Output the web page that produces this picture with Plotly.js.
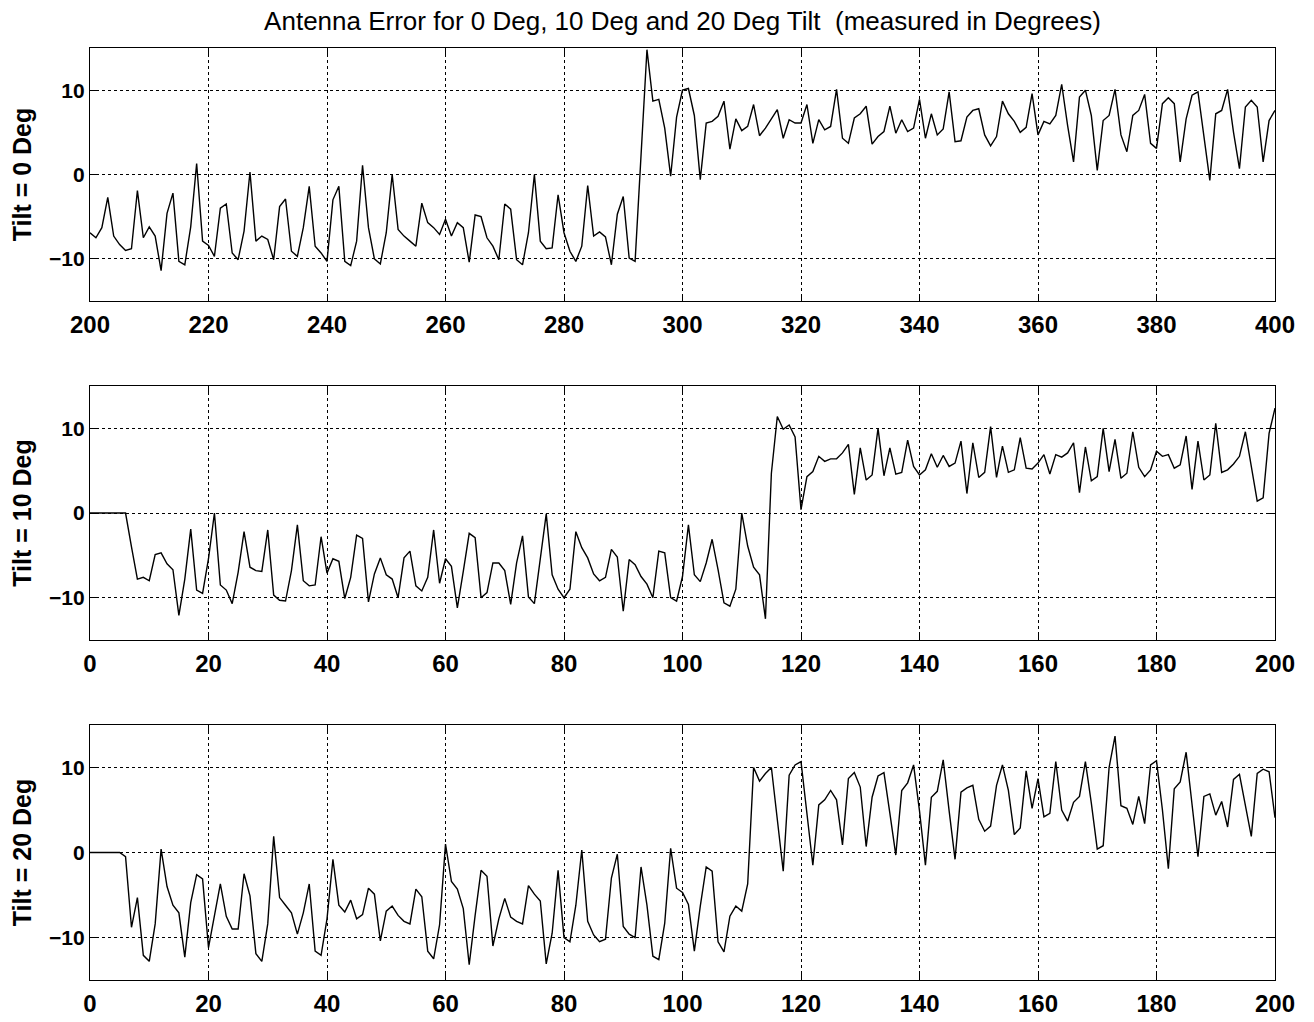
<!DOCTYPE html>
<html>
<head>
<meta charset="utf-8">
<script src="https://cdn.plot.ly/plotly-3.0.1.min.js"></script>
<style>
html,body{margin:0;padding:0;background:#fff;}
#chart{width:1314px;height:1022px;}
</style>
</head>
<body>
<div id="chart"></div>
<script>
// Sample indices: first sample of each record
const start0 = 200;   // Tilt = 0 Deg record starts at sample 200
const start10 = 0;    // Tilt = 10 Deg
const start20 = 0;    // Tilt = 20 Deg

// Antenna error (degrees), Tilt = 0 Deg, samples 200..400
const err0 = [
 -6.9,-7.5,-6.3,-2.7,-7.3,-8.3,-9.0,-8.8,-1.9,-7.5,
 -6.2,-7.3,-11.4,-4.6,-2.2,-10.3,-10.7,-6.2,1.3,-7.9,
 -8.4,-9.7,-4.0,-3.5,-9.3,-10.1,-6.7,0.3,-7.9,-7.3,
 -7.7,-10.1,-3.8,-2.9,-9.1,-9.7,-6.3,-1.4,-8.5,-9.3,
 -10.3,-3.0,-1.4,-10.3,-10.8,-7.9,1.1,-6.3,-10.0,-10.6,
 -6.9,0.0,-6.5,-7.3,-7.9,-8.5,-3.4,-5.7,-6.3,-7.1,
 -5.3,-7.3,-5.7,-6.3,-10.4,-4.8,-5.0,-7.5,-8.5,-10.1,
 -3.5,-4.1,-10.1,-10.7,-6.9,0.0,-7.9,-8.8,-8.7,-2.4,
 -6.9,-9.1,-10.3,-8.5,-1.3,-7.3,-6.8,-7.4,-10.7,-4.7,
 -2.6,-9.9,-10.3,2.4,14.8,8.7,8.9,5.5,-0.2,6.8,
 10.0,10.2,7.0,-0.6,6.1,6.3,6.9,8.7,3.0,6.6,
 5.2,5.7,8.3,4.6,5.5,6.6,7.7,4.3,6.5,6.1,
 6.1,8.3,3.7,6.5,5.3,5.7,10.1,4.3,3.7,6.7,
 7.2,8.1,3.6,4.5,5.1,8.1,4.9,6.5,5.1,5.5,
 8.9,4.3,7.2,4.7,5.4,9.8,3.9,4.0,6.8,7.6,
 7.8,4.7,3.4,4.5,8.7,7.2,6.3,5.0,5.6,9.6,
 4.7,6.3,6.0,7.0,10.7,5.8,1.5,9.2,10.0,7.0,
 0.5,6.4,7.0,10.1,4.7,2.7,7.0,7.6,9.5,3.7,
 3.1,8.4,9.1,8.4,1.5,6.6,9.4,9.8,4.7,-0.7,
 7.2,7.6,10.1,5.0,0.7,8.0,8.8,8.0,1.5,6.4,
 7.6
];

// Antenna error (degrees), Tilt = 10 Deg, samples 0..200
const err10 = [
 0,0,0,0,0,0,0,-4.0,-7.8,-7.6,
 -8.0,-4.9,-4.7,-6.0,-6.7,-12.1,-7.8,-1.9,-9.1,-9.5,
 -5.4,0.0,-8.5,-9.1,-10.7,-7.0,-2.2,-6.4,-6.8,-6.9,
 -2.0,-9.7,-10.3,-10.4,-6.8,-1.4,-8.0,-8.6,-8.5,-2.8,
 -7.1,-5.4,-5.7,-10.1,-7.6,-2.6,-3.0,-10.5,-7.2,-5.3,
 -7.3,-7.8,-10.0,-5.3,-4.5,-8.6,-9.2,-7.6,-2.0,-8.3,
 -5.4,-6.3,-11.2,-6.9,-2.4,-2.9,-10.0,-9.4,-5.9,-5.9,
 -6.8,-10.8,-5.9,-2.7,-9.9,-10.7,-5.5,-0.1,-7.3,-9.0,
 -10.0,-9.0,-2.2,-4.1,-5.3,-7.2,-8.0,-7.6,-4.3,-5.2,
 -11.6,-5.5,-6.1,-7.5,-8.4,-10.0,-4.5,-4.7,-10.0,-10.4,
 -7.5,-1.4,-7.3,-8.1,-5.9,-3.1,-6.7,-10.6,-11.0,-9.0,
 0.0,-3.9,-6.4,-7.3,-12.5,4.7,11.4,9.9,10.4,9.0,
 0.4,4.3,4.9,6.7,6.1,6.4,6.4,7.1,8.1,2.2,
 7.7,3.9,4.5,10.0,4.4,7.7,4.6,4.8,8.6,5.5,
 4.5,5.1,7.0,5.4,6.8,5.5,5.9,8.5,2.3,8.3,
 4.2,4.8,10.2,4.2,7.9,4.8,5.1,8.9,5.3,5.2,
 5.9,6.9,4.6,6.9,6.6,7.1,8.3,2.4,7.8,3.8,
 4.3,10.0,4.9,8.7,4.1,4.7,9.6,5.4,4.3,5.1,
 7.3,6.7,6.9,5.3,5.7,9.1,2.8,8.5,3.9,4.5,
 10.6,4.8,5.1,5.8,6.7,9.6,5.5,1.4,1.8,9.4,
 12.4
];

// Antenna error (degrees), Tilt = 20 Deg, samples 0..200
const err20 = [
 0,0,0,0,0,0,-0.5,-8.8,-5.3,-12.1,
 -12.8,-8.4,0.4,-4.0,-6.2,-7.1,-12.3,-5.9,-2.6,-3.1,
 -11.2,-7.2,-3.7,-7.5,-9.0,-9.0,-2.5,-5.1,-11.9,-12.8,
 -8.4,1.9,-5.3,-6.2,-7.1,-9.6,-7.1,-3.7,-11.6,-12.1,
 -7.8,-0.8,-6.2,-7.0,-5.6,-7.8,-7.3,-4.2,-4.9,-10.4,
 -6.9,-6.3,-7.4,-8.1,-8.4,-4.3,-5.2,-11.6,-12.5,-8.5,
 1.0,-3.4,-4.3,-6.6,-13.2,-7.4,-2.1,-2.8,-11.0,-7.8,
 -5.4,-7.6,-8.1,-8.4,-3.9,-4.9,-5.7,-13.1,-9.5,-2.1,
 -10.0,-10.5,-6.2,0.3,-8.1,-9.7,-10.5,-10.2,-3.0,-0.2,
 -8.7,-9.6,-10.0,-1.7,-6.2,-12.2,-12.6,-8.3,0.5,-4.2,
 -4.7,-6.1,-11.6,-6.3,-1.7,-2.2,-10.5,-11.7,-7.5,-6.3,
 -6.9,-3.7,10.0,8.4,9.3,10.0,3.6,-2.2,9.1,10.3,
 10.7,4.9,-1.5,5.6,6.2,7.3,6.2,0.9,8.7,9.4,
 7.7,0.7,6.5,9.0,9.4,4.6,-0.3,7.3,8.2,10.3,
 4.9,-1.5,6.5,7.2,10.9,4.9,-0.8,7.1,7.6,7.9,
 3.9,2.5,3.1,7.9,10.3,7.3,2.1,2.9,9.6,5.2,
 8.7,4.2,4.6,10.7,5.0,3.7,5.9,6.6,10.7,5.8,
 0.4,0.8,10.0,13.7,5.5,5.2,3.3,6.6,3.4,10.3,
 10.8,5.0,-1.9,7.5,8.3,11.8,5.6,-0.5,6.6,6.9,
 4.4,6.0,3.0,8.6,9.2,5.6,1.9,9.3,9.8,9.5,
 4.1
];

const yTitles = ["Tilt = 0 Deg", "Tilt = 10 Deg", "Tilt = 20 Deg"];
const yTickVals = [-10, 0, 10];
const yTickText = ["\u221210", "0", "10"];
const chartTitle = "Antenna Error for 0 Deg, 10 Deg and 20 Deg Tilt  (measured in Degrees)";

function idx(start, arr){ return arr.map((_, i) => start + i); }

const lineStyle = {color: '#000', width: 1.4};
const traces = [
  {x: idx(start0, err0), y: err0, xaxis: 'x', yaxis: 'y', type: 'scatter', mode: 'lines', line: lineStyle, hoverinfo: 'x+y'},
  {x: idx(start10, err10), y: err10, xaxis: 'x2', yaxis: 'y2', type: 'scatter', mode: 'lines', line: lineStyle, hoverinfo: 'x+y'},
  {x: idx(start20, err20), y: err20, xaxis: 'x3', yaxis: 'y3', type: 'scatter', mode: 'lines', line: lineStyle, hoverinfo: 'x+y'}
];

const fontFam = 'Arial, "Liberation Sans", sans-serif';
function xAxis(range, anchor){
  return {
    range: range, dtick: 20, tick0: 0, anchor: anchor,
    showgrid: true, gridcolor: '#000', griddash: 'dot', gridwidth: 1,
    showline: true, linecolor: '#000', linewidth: 1.2, mirror: 'ticks',
    ticks: 'inside', ticklen: 6, tickcolor: '#000',
    tickfont: {family: fontFam, size: 24, color: '#000', weight: 'bold'},
    ticklabelstandoff: 2,
    zeroline: false, fixedrange: true
  };
}
function yAxis(domain, anchor, title){
  return {
    domain: domain, range: [-15, 15], anchor: anchor,
    tickvals: yTickVals, ticktext: yTickText,
    showgrid: true, gridcolor: '#000', griddash: 'dot', gridwidth: 1,
    showline: true, linecolor: '#000', linewidth: 1.2, mirror: 'ticks',
    ticks: 'inside', ticklen: 6, tickcolor: '#000',
    tickfont: {family: fontFam, size: 21, color: '#000', weight: 'bold'},
    title: {text: title, font: {family: fontFam, size: 25, color: '#000', weight: 'bold'}, standoff: 10},
    zeroline: false, fixedrange: true
  };
}

const layout = {
  width: 1314, height: 1022,
  margin: {l: 90, r: 39, t: 48, b: 42},
  paper_bgcolor: '#fff', plot_bgcolor: '#fff',
  showlegend: false,
  title: {text: chartTitle, font: {family: fontFam, size: 26, color: '#000'},
          x: 0.5, xref: 'paper', xanchor: 'center', y: 1 - 21/1022, yref: 'container', yanchor: 'middle'},
  xaxis: xAxis([200, 400], 'y'),
  yaxis: yAxis([0.7285, 1], 'x', yTitles[0]),
  xaxis2: xAxis([0, 200], 'y2'),
  yaxis2: yAxis([0.3648, 0.6373], 'x2', yTitles[1]),
  xaxis3: xAxis([0, 200], 'y3'),
  yaxis3: yAxis([0, 0.2736], 'x3', yTitles[2])
};

Plotly.newPlot('chart', traces, layout, {displayModeBar: false, staticPlot: true});
</script>
</body>
</html>
